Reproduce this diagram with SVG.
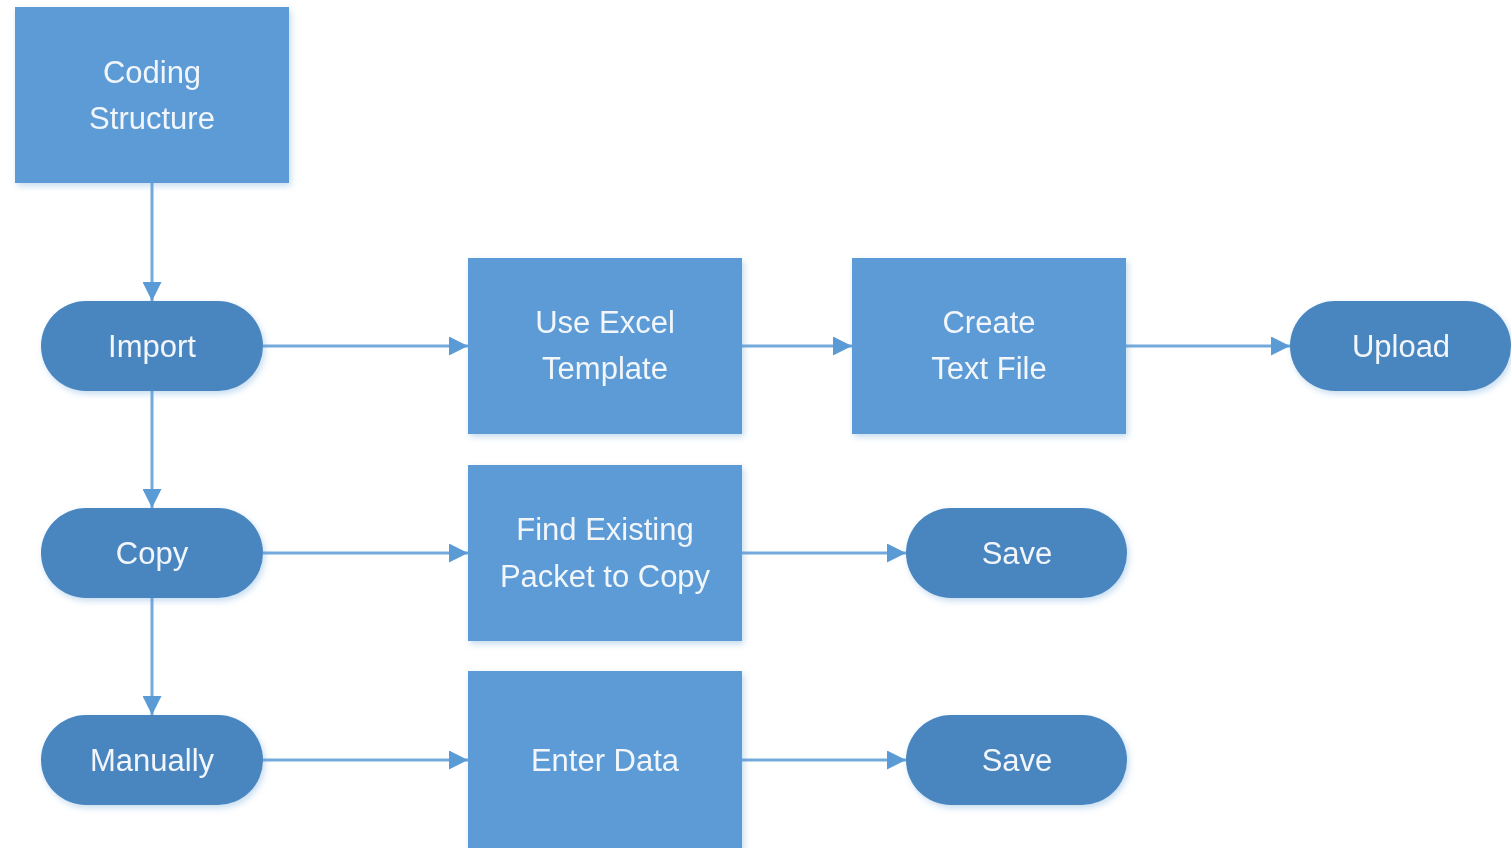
<svg xmlns="http://www.w3.org/2000/svg" width="1511" height="848" viewBox="0 0 1511 848">
<style>
.box{fill:#5b9bd5;}
.pill{fill:#4a86c0;}
.t{font-family:"Liberation Sans",Arial,sans-serif;font-size:31px;fill:#f2f6fb;text-anchor:middle;dominant-baseline:central;}
.c{stroke:#74a9dc;stroke-width:3;fill:none;marker-end:url(#ah);}
</style>
<defs>
<marker id="ah" viewBox="0 0 10 10" refX="10" refY="5" markerUnits="userSpaceOnUse" markerWidth="19" markerHeight="19" orient="auto">
<path d="M0,0 L10,5 L0,10 Z" fill="#5b9bd5"/>
</marker>
<filter id="sh" x="-10%" y="-10%" width="125%" height="130%">
<feDropShadow dx="2" dy="3" stdDeviation="3" flood-color="#5b9bd5" flood-opacity="0.35"/>
</filter>
</defs>
<rect width="1511" height="848" fill="#ffffff"/>
<g id="connectors">
<path class="c" d="M152,183 V301"/>
<path class="c" d="M152,391 V508"/>
<path class="c" d="M152,598 V715"/>
<path class="c" d="M263,346 H468"/>
<path class="c" d="M742,346 H852"/>
<path class="c" d="M1126,346 H1290"/>
<path class="c" d="M263,553 H468"/>
<path class="c" d="M742,553 H906"/>
<path class="c" d="M263,760 H468"/>
<path class="c" d="M742,760 H906"/>
</g>
<g id="coding" filter="url(#sh)"><rect class="box" x="15" y="7" width="274" height="176"/><text class="t" x="152" y="72">Coding</text><text class="t" x="152" y="118">Structure</text></g>
<g id="import" filter="url(#sh)"><rect class="pill" x="41" y="301" width="222" height="90" rx="45"/><text class="t" x="152" y="346">Import</text></g>
<g id="excel" filter="url(#sh)"><rect class="box" x="468" y="258" width="274" height="176"/><text class="t" x="605" y="322">Use Excel</text><text class="t" x="605" y="368">Template</text></g>
<g id="textfile" filter="url(#sh)"><rect class="box" x="852" y="258" width="274" height="176"/><text class="t" x="989" y="322">Create</text><text class="t" x="989" y="368">Text File</text></g>
<g id="upload" filter="url(#sh)"><rect class="pill" x="1290" y="301" width="221" height="90" rx="45"/><text class="t" x="1401" y="346">Upload</text></g>
<g id="copy" filter="url(#sh)"><rect class="pill" x="41" y="508" width="222" height="90" rx="45"/><text class="t" x="152" y="553">Copy</text></g>
<g id="find" filter="url(#sh)"><rect class="box" x="468" y="465" width="274" height="176"/><text class="t" x="605" y="529">Find Existing</text><text class="t" x="605" y="576">Packet to Copy</text></g>
<g id="save1" filter="url(#sh)"><rect class="pill" x="906" y="508" width="221" height="90" rx="45"/><text class="t" x="1017" y="553">Save</text></g>
<g id="manually" filter="url(#sh)"><rect class="pill" x="41" y="715" width="222" height="90" rx="45"/><text class="t" x="152" y="760">Manually</text></g>
<g id="enter" filter="url(#sh)"><rect class="box" x="468" y="671" width="274" height="190"/><text class="t" x="605" y="760">Enter Data</text></g>
<g id="save2" filter="url(#sh)"><rect class="pill" x="906" y="715" width="221" height="90" rx="45"/><text class="t" x="1017" y="760">Save</text></g>
</svg>
